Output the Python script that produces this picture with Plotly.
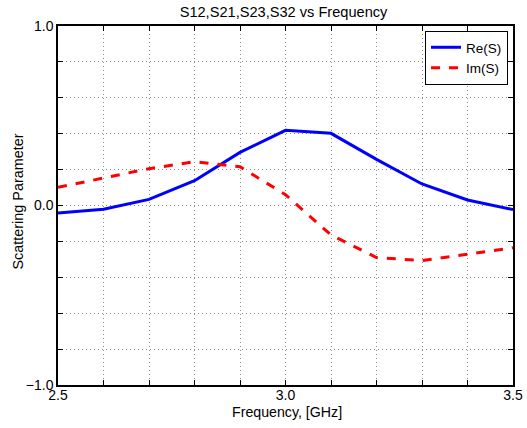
import plotly.graph_objects as go

freq = [2.5, 2.6, 2.7, 2.8, 2.9, 3.0, 3.1, 3.2, 3.3, 3.4, 3.5]
re_s = [-0.042, -0.021, 0.034, 0.138, 0.296, 0.419, 0.402, 0.257, 0.12, 0.031, -0.023]
im_s = [0.101, 0.152, 0.205, 0.244, 0.216, 0.06, -0.164, -0.29, -0.307, -0.272, -0.235]

x_grid = [round(2.5 + 0.1 * i, 1) for i in range(11)]
x_labels = ["2.5", "", "", "", "", "3.0", "", "", "", "", "3.5"]
y_grid = [round(-1.0 + 0.2 * i, 1) for i in range(11)]
y_labels = ["\u22121.0", "", "", "", "", "0.0", "", "", "", "", "1.0"]

font = "Liberation Sans, Arial, Helvetica, sans-serif"
W, H = 527, 428
L, R, T, B = 58, 513, 26, 385
PW, PH = R - L, B - T

fig = go.Figure()
fig.add_trace(go.Scatter(x=freq, y=re_s, mode="lines", name="Re(S)",
                         line=dict(color="#0000ff", width=3)))
fig.add_trace(go.Scatter(x=freq, y=im_s, mode="lines", name="Im(S)",
                         line=dict(color="#ff0000", width=3, dash="dash")))

axis_common = dict(showline=True, linecolor="black", linewidth=1.5, mirror="ticks",
                   ticks="inside", ticklen=5, tickcolor="black",
                   showgrid=True, gridcolor="#8a8a8a", griddash="1px,3px", gridwidth=1,
                   zeroline=False, automargin=False,
                   tickfont=dict(size=14, color="black", family=font))

fig.update_layout(
    width=W, height=H,
    margin=dict(l=L, r=W - R, t=T, b=H - B),
    paper_bgcolor="white", plot_bgcolor="white",
    title=dict(text="S12,S21,S23,S32 vs Frequency", x=283.5 / W, xanchor="center",
               y=1 - 11.5 / H, yanchor="middle", font=dict(size=14.6, color="black", family=font)),
    xaxis=dict(range=[2.5, 3.5], tickvals=x_grid, ticktext=x_labels,
               ticklabelstandoff=-4, **axis_common),
    yaxis=dict(range=[-1.0, 1.0], tickvals=y_grid, ticktext=y_labels, **axis_common),
    legend=dict(x=(508 - L) / PW, y=(B - 31) / PH,
                xanchor="right", yanchor="top",
                bgcolor="white", bordercolor="black", borderwidth=1,
                font=dict(size=13.5, color="black", family=font),
                tracegroupgap=0, itemwidth=30),
    showlegend=True,
    annotations=[
        dict(text="Frequency, [GHz]", xref="paper", yref="paper",
             x=(286.7 - L) / PW, y=-(412 - B) / PH, xanchor="center", yanchor="middle",
             showarrow=False, font=dict(size=14.2, color="black", family=font)),
        dict(text="Scattering Parameter", xref="paper", yref="paper",
             x=-(L - 18) / PW, y=(B - 201.5) / PH,
             xanchor="center", yanchor="middle", textangle=-90,
             showarrow=False, font=dict(size=14.4, color="black", family=font)),
    ],
)

fig.write_html("out.html", config={"displayModeBar": False},
               post_script="document.body.style.margin='0';")
